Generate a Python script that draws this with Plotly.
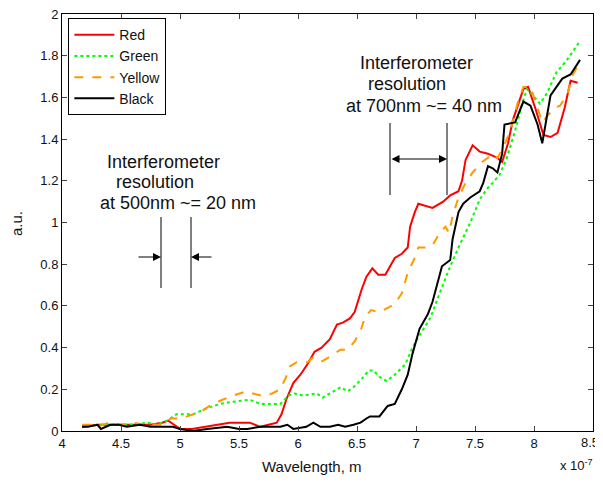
import plotly.graph_objects as go

# Wavelength in units of 1e-7 m, intensity in a.u.
red_wl = [4.17, 4.3, 4.45, 4.6, 4.75, 4.85, 4.9, 4.95, 5.0, 5.1, 5.2, 5.3, 5.42, 5.5, 5.59, 5.68, 5.75,
          5.82, 5.86, 5.9, 5.96, 6.02, 6.08, 6.14, 6.2, 6.27, 6.33, 6.38, 6.44, 6.48, 6.54, 6.58, 6.63,
          6.68, 6.74, 6.82, 6.88, 6.93, 6.95, 6.99, 7.02, 7.08, 7.14, 7.23, 7.29, 7.36, 7.39, 7.42, 7.48,
          7.54, 7.61, 7.69, 7.73, 7.78, 7.82, 7.91, 7.95, 8.01, 8.08, 8.14, 8.2, 8.26, 8.31, 8.37]
red_au = [0.02, 0.03, 0.03, 0.03, 0.03, 0.04, 0.05, 0.03, 0.01, 0.01, 0.02, 0.03, 0.04, 0.04, 0.04, 0.02, 0.03,
          0.04, 0.08, 0.15, 0.23, 0.27, 0.32, 0.38, 0.40, 0.44, 0.51, 0.52, 0.54, 0.57, 0.68, 0.74, 0.78,
          0.75, 0.75, 0.83, 0.85, 0.88, 0.98, 1.05, 1.09, 1.08, 1.07, 1.10, 1.13, 1.15, 1.20, 1.30, 1.37,
          1.34, 1.33, 1.31, 1.29, 1.38, 1.49, 1.64, 1.65, 1.55, 1.42, 1.41, 1.43, 1.55, 1.68, 1.67]

green_wl = [4.17, 4.3, 4.45, 4.6, 4.72, 4.8, 4.89, 4.97, 5.04, 5.11, 5.23, 5.34, 5.45, 5.59, 5.68, 5.85,
            5.92, 5.97, 6.04, 6.16, 6.21, 6.3, 6.36, 6.42, 6.47, 6.54, 6.6, 6.64, 6.69, 6.75, 6.82, 6.91,
            6.97, 7.03, 7.12, 7.2, 7.29, 7.36, 7.46, 7.54, 7.6, 7.65, 7.71, 7.77, 7.84, 7.9, 7.94, 7.99,
            8.05, 8.11, 8.19, 8.28, 8.39]
green_au = [0.02, 0.03, 0.03, 0.03, 0.04, 0.03, 0.05, 0.08, 0.08, 0.08, 0.11, 0.13, 0.14, 0.15, 0.13, 0.13,
            0.17, 0.18, 0.17, 0.18, 0.16, 0.19, 0.21, 0.19, 0.21, 0.25, 0.29, 0.29, 0.26, 0.24, 0.27, 0.32,
            0.40, 0.46, 0.54, 0.66, 0.79, 0.88, 1.00, 1.11, 1.16, 1.19, 1.23, 1.31, 1.44, 1.57, 1.64, 1.61,
            1.57, 1.62, 1.72, 1.78, 1.87]

yellow_wl = [4.17, 4.25, 4.3, 4.4, 4.5, 4.6, 4.7, 4.8, 4.86, 4.92, 5.0, 5.06, 5.17, 5.25, 5.36, 5.45, 5.56,
             5.62, 5.69, 5.78, 5.85, 5.9, 5.93, 5.99, 6.08, 6.12, 6.19, 6.25, 6.3, 6.36, 6.42, 6.48, 6.53,
             6.57, 6.62, 6.69, 6.76, 6.82, 6.88, 6.93, 6.99, 7.02, 7.08, 7.14, 7.2, 7.25, 7.28, 7.31, 7.36,
             7.42, 7.48, 7.56, 7.61, 7.64, 7.69, 7.73, 7.8, 7.86, 7.91, 7.97, 8.03, 8.07, 8.11, 8.18, 8.22,
             8.28, 8.33, 8.39]
yellow_au = [0.03, 0.03, 0.02, 0.04, 0.03, 0.04, 0.03, 0.03, 0.03, 0.06, 0.06, 0.07, 0.09, 0.12, 0.15, 0.17, 0.19,
             0.18, 0.17, 0.18, 0.20, 0.26, 0.31, 0.33, 0.33, 0.35, 0.33, 0.35, 0.37, 0.39, 0.39, 0.43, 0.48,
             0.55, 0.58, 0.57, 0.59, 0.61, 0.66, 0.76, 0.83, 0.88, 0.88, 0.89, 0.95, 0.98, 0.95, 1.03, 1.12,
             1.19, 1.24, 1.29, 1.31, 1.33, 1.31, 1.35, 1.44, 1.57, 1.65, 1.65, 1.55, 1.48, 1.51, 1.55, 1.56,
             1.61, 1.71, 1.77]

black_wl = [4.17, 4.22, 4.3, 4.33, 4.41, 4.48, 4.55, 4.66, 4.75, 4.83, 4.94, 5.0, 5.11, 5.23, 5.4, 5.5, 5.57,
            5.68, 5.85, 5.91, 5.96, 6.07, 6.13, 6.19, 6.27, 6.34, 6.4, 6.47, 6.53, 6.58, 6.61, 6.69, 6.76,
            6.82, 6.88, 6.93, 6.97, 7.03, 7.1, 7.14, 7.22, 7.29, 7.31, 7.36, 7.4, 7.46, 7.54, 7.57, 7.61,
            7.65, 7.69, 7.73, 7.75, 7.84, 7.91, 7.97, 8.03, 8.07, 8.14, 8.24, 8.31, 8.39]
black_au = [0.02, 0.02, 0.03, 0.01, 0.03, 0.03, 0.02, 0.03, 0.02, 0.02, 0.02, 0.01, 0.00, 0.01, 0.02, 0.01, 0.01,
            0.02, 0.02, 0.03, 0.01, 0.02, 0.04, 0.02, 0.02, 0.03, 0.02, 0.03, 0.04, 0.06, 0.07, 0.07, 0.12,
            0.13, 0.20, 0.27, 0.37, 0.49, 0.56, 0.62, 0.79, 0.82, 0.92, 1.05, 1.09, 1.12, 1.15, 1.19, 1.27,
            1.26, 1.24, 1.33, 1.47, 1.48, 1.58, 1.56, 1.47, 1.38, 1.61, 1.69, 1.71, 1.78]

x_ticks = [4, 4.5, 5, 5.5, 6, 6.5, 7, 7.5, 8, 8.5]
x_tick_labels = ["4", "4.5", "5", "5.5", "6", "6.5", "7", "7.5", "8", "8.5"]
y_ticks = [0, 0.2, 0.4, 0.6, 0.8, 1, 1.2, 1.4, 1.6, 1.8, 2]

FONT = "Liberation Sans, Arial, sans-serif"

fig = go.Figure()
fig.add_trace(go.Scatter(x=red_wl, y=red_au, mode="lines", name="Red",
                         line=dict(color="#ff0000", width=2)))
fig.add_trace(go.Scatter(x=green_wl, y=green_au, mode="lines", name="Green",
                         line=dict(color="#00ff00", width=2, dash="dot")))
fig.add_trace(go.Scatter(x=yellow_wl, y=yellow_au, mode="lines", name="Yellow",
                         line=dict(color="#ff9900", width=2, dash="dash")))
fig.add_trace(go.Scatter(x=black_wl, y=black_au, mode="lines", name="Black",
                         line=dict(color="#000000", width=2)))


# pixel -> data helpers for decorations (annotations only)
def px_x(px):
    return 4 + (px - 62) / 118.0


def px_y(py):
    return (431 - py) / 208.5


def paper_x(px):
    return (px - 62) / 531.0


def paper_y(py):
    return (431 - py) / 417.0


annots = []
text_lines = [
    ("Interferometer", 163, 162), ("resolution", 155, 182), ("at 500nm ~= 20 nm", 178, 203),
    ("Interferometer", 416, 63), ("resolution", 407, 84), ("at 700nm ~= 40 nm", 424, 106),
]
for t, cx, cy in text_lines:
    annots.append(dict(x=px_x(cx), y=px_y(cy), xref="x", yref="y", text=t, showarrow=False,
                       font=dict(family=FONT, size=18, color="#111")))

arrow_style = dict(showarrow=True, arrowhead=2, arrowsize=1.6, arrowwidth=1, arrowcolor="black",
                   text="", xref="x", yref="y", axref="x", ayref="y", standoff=0, startstandoff=0)
# 500nm arrows pointing inward
annots.append(dict(x=px_x(161), y=px_y(257), ax=px_x(137), ay=px_y(257), **arrow_style))
annots.append(dict(x=px_x(191), y=px_y(257), ax=px_x(213), ay=px_y(257), **arrow_style))
# 700nm double arrow
annots.append(dict(x=px_x(447), y=px_y(159), ax=px_x(390), ay=px_y(159), arrowside="end+start",
                   startarrowhead=2, startarrowsize=1.6, **arrow_style))
# axis titles and x10^-7 exponent label
annots.append(dict(x=paper_x(312), y=paper_y(467), xref="paper", yref="paper",
                   xanchor="center", yanchor="middle", text="Wavelength, m", showarrow=False,
                   font=dict(family=FONT, size=15, color="#111")))
annots.append(dict(x=paper_x(16), y=paper_y(224), xref="paper", yref="paper", textangle=-90,
                   xanchor="center", yanchor="middle", text="a.u.", showarrow=False,
                   font=dict(family=FONT, size=15, color="#111")))
annots.append(dict(x=paper_x(576), y=paper_y(465), xref="paper", yref="paper",
                   xanchor="center", yanchor="middle",
                   text="x 10<sup>-7</sup>", showarrow=False,
                   font=dict(family=FONT, size=13, color="#111")))
# last x tick label, kept right-aligned so it stays inside the page
annots.append(dict(x=paper_x(601), y=paper_y(442), xref="paper", yref="paper",
                   xanchor="right", yanchor="middle", text=x_tick_labels[-1], showarrow=False,
                   font=dict(family=FONT, size=13, color="#111")))

shapes = []
for px, y0, y1 in [(161, 217, 288), (191, 217, 288), (390, 123, 195), (447, 123, 195)]:
    shapes.append(dict(type="line", xref="x", yref="y", x0=px_x(px), x1=px_x(px),
                       y0=px_y(y0), y1=px_y(y1), line=dict(color="black", width=1)))

# The page body has an 8px margin, so the figure is sized/offset to compensate.
fig.update_layout(
    width=595, height=474,
    margin=dict(l=54, r=10, t=6, b=51, autoexpand=False),
    paper_bgcolor="white", plot_bgcolor="white",
    font=dict(family=FONT, size=13, color="#111"),
    showlegend=True,
    legend=dict(x=0.012, y=0.99, xanchor="left", yanchor="top",
                bgcolor="white", bordercolor="black", borderwidth=1,
                font=dict(family=FONT, size=14, color="#111"),
                itemwidth=40, tracegroupgap=0),
    annotations=annots,
    shapes=shapes,
)
fig.update_xaxes(range=[4, 8.5], tickvals=x_ticks, ticktext=x_tick_labels[:-1] + [""],
                 ticks="inside", ticklen=5,
                 showline=True, linecolor="black", linewidth=1, mirror="ticks",
                 showgrid=False, zeroline=False, automargin=False, ticklabeloverflow="allow",
                 tickfont=dict(family=FONT, size=13))
fig.update_yaxes(range=[0, 2], tickvals=y_ticks, ticks="inside", ticklen=5,
                 showline=True, linecolor="black", linewidth=1, mirror="ticks",
                 showgrid=False, zeroline=False, automargin=False, ticklabeloverflow="allow",
                 tickfont=dict(family=FONT, size=13))

fig.write_html("out.html")
